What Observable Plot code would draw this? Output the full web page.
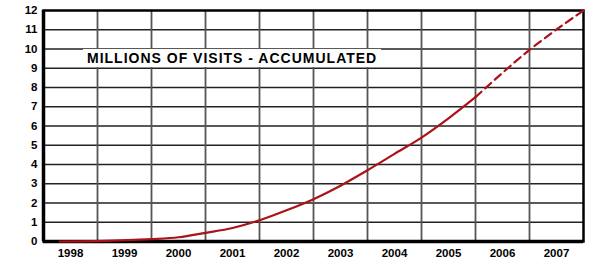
<!DOCTYPE html>
<html>
<head>
<meta charset="utf-8">
<script src="https://cdn.jsdelivr.net/npm/d3@7"></script>
<script src="https://cdn.jsdelivr.net/npm/@observablehq/plot@0.6"></script>
<style>
  html, body { margin: 0; padding: 0; background: #fff; }
  #wrap { position: relative; width: 589px; height: 260px; }
  #title {
    position: absolute; left: 83px; top: 49px;
    background: #fff; padding: 1px 4px;
    font-family: "Liberation Sans", Arial, sans-serif; font-weight: bold;
    font-size: 14px; letter-spacing: 1px; line-height: 16px; color: #000;
    white-space: nowrap;
  }
</style>
</head>
<body>
<div id="wrap"><div id="title">MILLIONS OF VISITS - ACCUMULATED</div></div>
<script>
// Observed (solid) accumulated visits, millions
const actualYears = [1997.8, 1998.5, 1999.5, 2000, 2000.5, 2001, 2001.5, 2002, 2002.5, 2003, 2003.5, 2004, 2004.5, 2005, 2005.5];
const actualVisits = [0, 0.02, 0.12, 0.22, 0.45, 0.7, 1.1, 1.62, 2.2, 2.9, 3.7, 4.55, 5.4, 6.4, 7.5];
// Projected (dashed)
const projYears = [2005.5, 2006.5, 2007.5];
const projVisits = [7.5, 9.95, 12];
// Axis ticks
const yearTicks = [1998, 1999, 2000, 2001, 2002, 2003, 2004, 2005, 2006, 2007];
const yTicks = [0, 1, 2, 3, 4, 5, 6, 7, 8, 9, 10, 11, 12];
const yearBounds = [1998.5, 1999.5, 2000.5, 2001.5, 2002.5, 2003.5, 2004.5, 2005.5, 2006.5];

const actual = actualYears.map((x, i) => ({x, y: actualVisits[i]}));
const proj = projYears.map((x, i) => ({x, y: projVisits[i]}));

const chart = Plot.plot({
  width: 589,
  height: 260,
  marginLeft: 43,
  marginRight: 6,
  marginTop: 10,
  marginBottom: 19,
  style: {fontFamily: "'Liberation Sans', Arial, sans-serif", fontSize: "11.5px", fontWeight: "bold", color: "#000", background: "#fff"},
  x: {domain: [1997.5, 2007.5], ticks: yearTicks, tickFormat: d => String(d), tickSize: 2, tickPadding: 5, label: null},
  y: {domain: [0, 12], ticks: yTicks, tickSize: 0, tickPadding: 6, label: null},
  marks: [
    Plot.ruleY(yTicks.slice(1, -1), {stroke: "#222", strokeWidth: 1.3}),
    Plot.ruleX(yearBounds, {stroke: "#555", strokeWidth: 1.8}),
    Plot.frame({stroke: "#000", strokeWidth: 2.5}),
    Plot.ruleX([1997.5], {stroke: "#000", strokeWidth: 3.5}),
    Plot.ruleY([0], {stroke: "#000", strokeWidth: 3.5}),
    Plot.line(proj, {x: "x", y: "y", stroke: "#ac1219", strokeWidth: 2.2, strokeDasharray: "8,5", curve: "monotone-x"}),
    Plot.line(actual, {x: "x", y: "y", stroke: "#ac1219", strokeWidth: 2.2, curve: "monotone-x"})
  ]
});
document.getElementById("wrap").prepend(chart);
</script>
</body>
</html>
